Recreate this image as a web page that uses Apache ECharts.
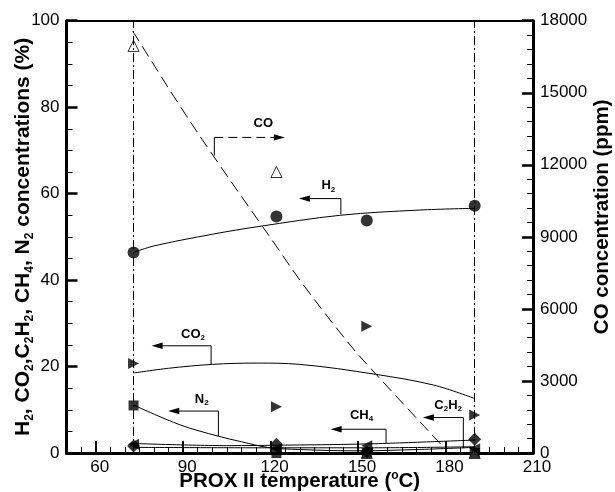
<!DOCTYPE html>
<html>
<head>
<meta charset="utf-8">
<script src="https://cdn.jsdelivr.net/npm/echarts@6/dist/echarts.min.js"></script>
<style>
  html, body { margin: 0; padding: 0; background: #fff; }
  #chart { width: 615px; height: 492px; }
</style>
</head>
<body>
<div id="chart"></div>
<script>
// Sampling temperatures of the PROX II stage (°C)
const temperatures = [73, 122, 153, 190];

// Measured gas concentrations (%)
const h2 = [46.4, 54.7, 53.8, 57.2];
const co2 = [20.7, 10.7, 29.3, 8.8];
const n2 = [11.0, 0, 0, 0];
const ch4 = [1.6, 2.0, 0.3, 3.2];
const c2h2 = [2.0, 1.0, 1.7, 1.0];

// Measured CO (ppm)
const coPpm = [16950, 11700, 0, 0];

// Trend curves (temperature, value)
const h2FitT = [73, 80, 100, 116, 144, 171, 190];
const h2FitV = [46.4, 47.9, 50.6, 52.4, 55.0, 56.2, 56.6];
const co2FitT = [73, 85, 100, 115, 130, 156, 176, 190];
const co2FitV = [18.5, 19.6, 20.5, 20.8, 20.5, 18.2, 15.7, 12.6];
const n2FitT = [73, 89, 102, 110, 119, 130, 150, 170, 190];
const n2FitV = [11.1, 6.5, 3.9, 2.6, 1.3, 0.8, 0.5, 0.8, 1.3];
const ch4FitT = [73, 106, 122, 153, 190];
const ch4FitV = [2.2, 1.7, 1.8, 2.1, 3.0];
const c2h2FitT = [73, 120, 153, 190];
const c2h2FitV = [1.3, 1.2, 1.2, 1.45];
const coFitT = [72.7, 87.8, 100.3, 122.6, 130.1, 143.2, 151.8, 179.2];
const coFitV = [17570, 14660, 12380, 8500, 7190, 5110, 3860, 260];

// Labelled ticks on the temperature axis and the two guide temperatures
const xMajorTicks = [60, 90, 120, 150, 180, 210];
const guideTemps = [73, 190];

// Curve call-outs, placed in (temperature, %) coordinates
const annotations = [
  { label: 'CO', textAt: [117.5, 76.3], stem: [100.7, 68.8], corner: [100.7, 73.0], tip: [124.9, 73.0], dashed: true },
  { label: 'H{s|2}', textAt: [139.8, 61.8], stem: [144.1, 55.2], corner: [144.1, 58.85], tip: [129.7, 58.85] },
  { label: 'CO{s|2}', textAt: [93.4, 27.4], stem: [99.6, 20.5], corner: [99.6, 24.8], tip: [79.2, 24.8] },
  { label: 'N{s|2}', textAt: [96.4, 12.4], stem: [102.1, 3.9], corner: [102.1, 9.7], tip: [84.9, 9.7] },
  { label: 'CH{s|4}', textAt: [151.2, 8.7], stem: [159.6, 2.2], corner: [159.6, 5.5], tip: [140.6, 5.5] },
  { label: 'C{s|2}H{s|2}', textAt: [180.9, 11.0], stem: [186.1, 1.1], corner: [186.1, 8.2], tip: [172.2, 8.2] }
];

const FONT = '"Liberation Sans", Arial, Helvetica, sans-serif';
const BLACK = '#000';

const pairs = (xs, ys) => xs.map((x, i) => [x, ys[i]]);

function markers(name, values, symbol, size, rotate, extra) {
  return Object.assign({
    name,
    type: 'scatter',
    data: pairs(temperatures, values),
    symbol,
    symbolSize: size,
    symbolRotate: rotate || 0,
    itemStyle: { color: BLACK }
  }, extra || {});
}

function curve(name, xs, ys, extra) {
  return Object.assign({
    name,
    type: 'line',
    data: pairs(xs, ys),
    smooth: 0.35,
    showSymbol: false,
    symbol: 'none',
    lineStyle: { color: BLACK, width: 1 },
    silent: true
  }, extra || {});
}

const tickLabelStyle = { color: BLACK, fontSize: 17, fontFamily: FONT };
function titleStyle(size) {
  return {
    color: BLACK, fontSize: size, fontWeight: 'bold', fontFamily: FONT,
    rich: {
      s: { fontSize: Math.round(size * 0.58), fontWeight: 'bold', fontFamily: FONT, color: BLACK, padding: [12, 0, 0, 0] },
      u: { fontSize: Math.round(size * 0.58), fontWeight: 'bold', fontFamily: FONT, color: BLACK, padding: [0, 0, 10, 0] }
    }
  };
}

const chart = echarts.init(document.getElementById('chart'));

chart.setOption({
  animation: false,
  backgroundColor: '#fff',
  grid: { left: 66.5, right: 82, top: 20.7, bottom: 39, outerBoundsMode: 'none', containLabel: false },
  xAxis: [
    {
      type: 'value', min: 50, max: 210, interval: 5,
      axisLine: { show: true, lineStyle: { color: BLACK, width: 3 } },
      axisTick: { show: true, inside: true, length: 6, lineStyle: { color: BLACK, width: 1 } },
      axisLabel: {
        ...tickLabelStyle, margin: 6, padding: [0, 0, 0, 8],
        formatter: v => (xMajorTicks.includes(v) ? String(v) : '')
      },
      splitLine: { show: false },
      name: 'PROX II temperature ({u|o}C)',
      nameLocation: 'middle', nameGap: 17, nameMoveOverlap: false,
      nameTextStyle: titleStyle(20.5)
    },
    {
      // longer ticks at the labelled temperatures
      type: 'value', min: 50, max: 210, position: 'bottom',
      axisLine: { show: false },
      axisTick: { show: true, inside: true, length: 12, customValues: xMajorTicks, lineStyle: { color: BLACK, width: 2 } },
      axisLabel: { show: false },
      splitLine: { show: false }
    },
    {
      // top frame line
      type: 'value', min: 50, max: 210, position: 'top',
      axisLine: { show: true, lineStyle: { color: BLACK, width: 2 } },
      axisTick: { show: false },
      axisLabel: { show: false },
      splitLine: { show: false }
    }
  ],
  yAxis: [
    {
      type: 'value', min: 0, max: 100, interval: 20,
      axisLine: { show: true, lineStyle: { color: BLACK, width: 3 } },
      axisTick: { show: true, inside: true, length: 11, lineStyle: { color: BLACK, width: 2.5 } },
      minorTick: { show: true, splitNumber: 4, length: 6, lineStyle: { color: BLACK, width: 1 } },
      axisLabel: { ...tickLabelStyle, margin: 7, formatter: v => String(v) },
      splitLine: { show: false },
      name: 'H{s|2}, CO{s|2},C{s|2}H{s|2}, CH{s|4}, N{s|2} concentrations (%)',
      nameLocation: 'middle', nameRotate: 90, nameGap: 31, nameMoveOverlap: false,
      nameTextStyle: titleStyle(21)
    },
    {
      type: 'value', position: 'right', min: 0, max: 18000, interval: 3000,
      axisLine: { show: true, lineStyle: { color: BLACK, width: 3 } },
      axisTick: { show: true, inside: true, length: 11, lineStyle: { color: BLACK, width: 2.5 } },
      minorTick: { show: true, splitNumber: 5, length: 6, lineStyle: { color: BLACK, width: 1 } },
      axisLabel: { ...tickLabelStyle, margin: 7, formatter: v => String(v) },
      splitLine: { show: false },
      name: 'CO concentration (ppm)',
      nameLocation: 'middle', nameRotate: 90, nameGap: 59, nameMoveOverlap: false,
      nameTextStyle: Object.assign(titleStyle(20.5), { padding: [0, 0, 0, 40] })
    }
  ],
  series: [
    curve('H2 trend', h2FitT, h2FitV),
    curve('CO2 trend', co2FitT, co2FitV),
    curve('N2 trend', n2FitT, n2FitV),
    curve('CH4 trend', ch4FitT, ch4FitV),
    curve('C2H2 trend', c2h2FitT, c2h2FitV),
    curve('CO trend', coFitT, coFitV, {
      yAxisIndex: 1,
      lineStyle: { color: BLACK, width: 1, type: [12, 6] },
      markLine: {
        silent: true, symbol: ['none', 'none'], label: { show: false },
        lineStyle: { color: BLACK, width: 1, type: [9, 3, 2, 3] },
        data: guideTemps.map(t => ({ xAxis: t }))
      }
    }),
    markers('CO', coPpm, 'triangle', 11, 0, {
      yAxisIndex: 1,
      itemStyle: { color: '#fff', borderColor: BLACK, borderWidth: 1 }
    }),
    markers('H2', h2, 'circle', 12),
    markers('CO2', co2, 'triangle', 11, -90),
    markers('C2H2', c2h2, 'triangle', 11, 90),
    markers('CH4', ch4, 'diamond', 13),
    markers('N2', n2, 'rect', 10)
  ]
});

// Call-out arrows with their labels, converted through the axes
function toPx(p) {
  return chart.convertToPixel({ xAxisIndex: 0, yAxisIndex: 0 }, p);
}

const noteText = {
  fill: BLACK, fontSize: 13, fontWeight: 'bold', fontFamily: FONT,
  align: 'center', verticalAlign: 'middle',
  rich: { s: { fontSize: 8, fontWeight: 'bold', fontFamily: FONT, fill: BLACK, padding: [7, 0, 0, 0] } }
};

const elements = [];
annotations.forEach(a => {
  const s = toPx(a.stem), c = toPx(a.corner), t = toPx(a.tip), tx = toPx(a.textAt);
  const dir = t[0] > c[0] ? 1 : -1;
  const headLen = 11, headHalf = 3.2;
  elements.push({
    type: 'polyline', silent: true, z: 10,
    shape: { points: [s, c] },
    style: { stroke: BLACK, lineWidth: 1, fill: null }
  });
  elements.push({
    type: 'line', silent: true, z: 10,
    shape: { x1: c[0], y1: c[1], x2: t[0] - dir * headLen * 0.6, y2: t[1] },
    style: { stroke: BLACK, lineWidth: 1, lineDash: a.dashed ? [9, 5] : null }
  });
  elements.push({
    type: 'polygon', silent: true, z: 10,
    shape: { points: [[t[0], t[1]], [t[0] - dir * headLen, t[1] - headHalf], [t[0] - dir * headLen, t[1] + headHalf]] },
    style: { fill: BLACK }
  });
  elements.push({
    type: 'text', silent: true, z: 10,
    x: tx[0], y: tx[1],
    style: Object.assign({ text: a.label }, noteText)
  });
});

chart.setOption({ graphic: { elements } });
</script>
</body>
</html>
